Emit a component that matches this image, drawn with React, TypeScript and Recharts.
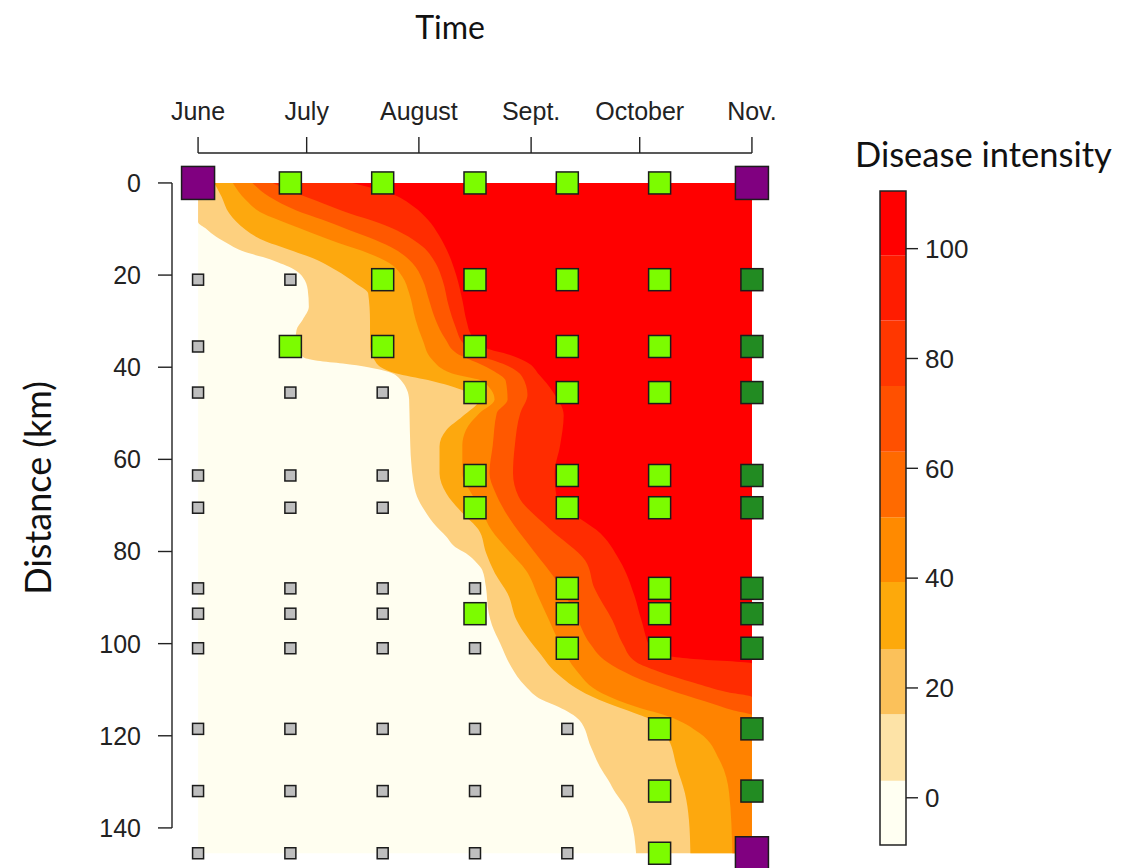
import { ComposedChart, Area, Scatter, XAxis, YAxis, ReferenceLine, ReferenceArea } from 'recharts'

// time axis (days since 1 June) and distance axis (km)
const monthLabels = ['June', 'July', 'August', 'Sept.', 'October', 'Nov.']
const monthDays = [0, 30, 61, 92, 122, 153]
const kmTicks = [0, 20, 40, 60, 80, 100, 120, 140]

// survey grid
const surveyDays = [0, 25.5, 51, 76.5, 102, 127.5, 153]
const surveyKm = [0, 21, 35.5, 45.5, 63.5, 70.5, 88, 93.5, 101, 118.5, 132, 145.5]
// P = source, G = diseased, D = diseased (last survey), o = healthy
const surveyStatus = [
  'PGGGGGP',
  'ooGGGGD',
  'oGGGGGD',
  'oooGGGD',
  'oooGGGD',
  'oooGGGD',
  'ooooGGD',
  'oooGGGD',
  'ooooGGD',
  'oooooGD',
  'oooooGD',
  'oooooGP',
]

// contour edges, [km, day]: intensity is above the level to the right of the edge
const edgeAll = [[0, 0], [145.5, 0]]
const edge1 = [[0, 0], [8.5, 0], [10, 2.3], [11.7, 5], [13, 7.8], [13.9, 9.8], [15, 13], [16.1, 17.9], [17.2, 22], [18.2, 25.1], [20.4, 28.9], [23.2, 30.3], [26.9, 30.6], [29.7, 28.9], [31.9, 27.2], [35, 26.8], [37.8, 29], [38.6, 33], [39.2, 40], [40, 47], [41, 52.5], [42.8, 56], [47, 58.3], [53.6, 58.5], [60.8, 58.9], [64.5, 59.4], [68.1, 60.5], [71, 62.5], [73.8, 65], [76.8, 68.6], [79, 71], [80.4, 74], [82.5, 77], [84, 78.5], [87.6, 79.5], [93.4, 80.3], [96, 81.2], [100, 83.5], [105, 86.5], [109.3, 90.5], [112.2, 95], [113.7, 99.5], [116.6, 105.3], [122.4, 108.5], [126.7, 111], [129.6, 113.3], [132.5, 115.4], [135.4, 118], [138.3, 119.5], [145.5, 121]]
const edge2 = [[0, 4.5], [3, 6.5], [6.6, 8.6], [10.2, 13.2], [12.4, 17.8], [14.5, 25.2], [16.3, 31.6], [18.9, 38], [21.8, 43.6], [24, 47], [30, 47.5], [35.5, 47.5], [38.4, 48.7], [40, 50.5], [41.3, 54.5], [42.8, 63.5], [45.3, 74], [47.1, 77.5], [50.7, 73], [53.6, 68.6], [57.2, 66.7], [63, 66.7], [67.4, 68.6], [71.7, 73.1], [75.3, 77.5], [80.4, 79.6], [84.7, 82], [89.1, 85.5], [94.9, 88], [102, 94.3], [106.4, 99], [110.8, 107], [113.5, 115], [115.5, 122], [117, 126.5], [120.9, 130], [126.7, 132.2], [132.5, 134.5], [138.3, 135.6], [145.5, 136]]
const edge3 = [[0, 9.6], [3.7, 13.2], [6.6, 17.8], [8.7, 24.3], [10.9, 31.6], [13.1, 39], [15.3, 47.2], [17.4, 52.8], [20.3, 56.4], [23.9, 58.3], [29.7, 60.1], [34, 62], [38.4, 64.7], [41.3, 70], [43, 78.5], [47, 81.9], [50, 77.7], [53.6, 74], [57, 73], [63, 73], [67.8, 75.8], [71.7, 78.6], [75.3, 81], [80, 86], [84, 90.5], [89.8, 94], [95, 97], [101, 100.6], [105.7, 104.4], [110.8, 111.7], [113.7, 121], [115.8, 130], [119.4, 138.5], [125.2, 144], [132.4, 146.7], [145.5, 147.6]]
const edge4 = [[0, 15], [3, 19.7], [5.9, 27], [8, 34.4], [10.2, 41.7], [12.4, 49], [14.5, 54.6], [17.4, 59.2], [21, 62], [25.4, 63.8], [29.7, 65.6], [34, 68.4], [37, 71.5], [39, 77], [41, 82], [43, 85], [47, 85.5], [50, 82.5], [57, 81.4], [63, 80.5], [67, 82], [71.7, 85.1], [79.7, 92.5], [86.9, 99.5], [94.2, 104.5], [100, 108.3], [104, 113], [107, 120], [110, 130], [112.5, 140], [114.5, 148], [115.5, 153], [145.5, 153]]
const edge5 = [[0, 20.6], [2.2, 27], [4.4, 34.4], [6.6, 41.7], [8.7, 50], [10.9, 56.4], [13.8, 62], [17.4, 65.6], [21, 67.5], [26.9, 69.3], [31.2, 71.1], [35, 73.5], [37.5, 78], [39.5, 85], [42, 89.5], [46, 91], [50, 89], [57, 87.5], [63, 87], [68, 88.5], [75, 97], [82, 107], [88, 109.5], [95, 114.5], [100, 117.3], [104, 121], [106, 127], [108.5, 137], [110.5, 146], [111.6, 153], [145.5, 153]]
const edge6 = [[0, 42.6], [2.2, 52.8], [5.1, 59.5], [8, 63.5], [11.3, 66.5], [15.6, 69.3], [20, 71.3], [25.8, 73.1], [30.1, 74.2], [33, 75.5], [35.9, 79.6], [37.3, 86], [38.8, 90.6], [41.7, 94.3], [45.3, 98], [50.4, 101], [57, 100], [63, 98.5], [68, 99], [72, 104], [75.3, 110], [82, 116.5], [89.5, 120.5], [95, 122.5], [102, 125.8], [103.3, 136], [104.3, 153], [145.5, 153]]

const contourEdges = [edgeAll, edge1, edge2, edge3, edge4, edge5, edge6]
const contourColors = ['#FFFEF0', '#FDD07F', '#FDA80E', '#FF8300', '#FF5800', '#FF2C00', '#FF0000']

// colour key
const legendBreaks = [-8.6, 3.1, 15.2, 27.1, 39.3, 51.1, 63, 75, 86.9, 98.8, 110.5]
const legendColors = ['#FFFFF2', '#FDE3A7', '#FBC15A', '#FDA90B', '#FF8A00', '#FF6A00', '#FF5000', '#FF3700', '#FF1C00', '#FF0000']
const legendTicks = [0, 20, 40, 60, 80, 100]

const X_DOMAIN = [-7.2, 160.2]
const Y_DOMAIN = [-6.5, 148.05]
const LAST_DAY = monthDays[monthDays.length - 1]
const LAST_TICK_KM = kmTicks[kmTicks.length - 1]

const toPoints = (edge: number[][]) => edge.map(([d, t]) => ({ d, t }))

const surveyPoints = surveyKm.flatMap((d, i) =>
  surveyDays.map((t, j) => ({ d, t, s: surveyStatus[i][j] }))
)
const pointsFor = (s: string) => surveyPoints.filter((p) => p.s === s)

const square = (size: number, fill: string) => (props: any) => (
  <rect
    x={props.cx - size / 2}
    y={props.cy - size / 2}
    width={size}
    height={size}
    fill={fill}
    stroke="#1c1c1c"
    strokeWidth={1.5}
  />
)

const axisFont = { fontSize: 25, fill: '#222', fontFamily: '"Liberation Sans", Arial, sans-serif' }
const titleFont = { fontFamily: 'Lato, "Open Sans", sans-serif', fontSize: 32, color: '#111', lineHeight: 1, whiteSpace: 'nowrap' as const }

export default function App() {
  return (
    <div style={{ position: 'absolute', left: 0, top: 0, width: 1132, height: 868, background: '#fff', overflow: 'hidden' }}>
      <ComposedChart width={1132} height={868} layout="vertical" margin={{ top: 0, right: 354, bottom: 3, left: 0 }}>
        <XAxis
          type="number"
          dataKey="t"
          orientation="top"
          domain={X_DOMAIN}
          ticks={monthDays}
          interval={0}
          height={153}
          tickSize={16}
          tickMargin={17}
          axisLine={false}
          tickLine={{ stroke: '#222', strokeWidth: 1.4 }}
          tick={axisFont}
          tickFormatter={(v) => monthLabels[monthDays.indexOf(v)]}
        />
        <YAxis
          type="number"
          dataKey="d"
          domain={Y_DOMAIN}
          ticks={kmTicks}
          interval={0}
          width={172}
          tickSize={14}
          tickMargin={17}
          axisLine={false}
          tickLine={{ stroke: '#222', strokeWidth: 1.4 }}
          tick={axisFont}
        />
        {contourEdges.map((edge, i) => (
          <Area
            key={i}
            data={toPoints(edge)}
            dataKey={(p: any) => [p.t, LAST_DAY]}
            type="monotone"
            stroke="none"
            fill={contourColors[i]}
            fillOpacity={1}
            dot={false}
            activeDot={false}
            isAnimationActive={false}
          />
        ))}
        <ReferenceLine
          segment={[{ x: 0, y: Y_DOMAIN[0] }, { x: LAST_DAY, y: Y_DOMAIN[0] }]}
          stroke="#222"
          strokeWidth={1.4}
          ifOverflow="visible"
        />
        <ReferenceLine
          segment={[{ x: X_DOMAIN[0], y: 0 }, { x: X_DOMAIN[0], y: LAST_TICK_KM }]}
          stroke="#222"
          strokeWidth={1.4}
          ifOverflow="visible"
        />
        <Scatter data={pointsFor('o')} shape={square(11, '#BEBEBE')} isAnimationActive={false} />
        <Scatter data={pointsFor('G')} shape={square(22, '#7CFC00')} isAnimationActive={false} />
        <Scatter data={pointsFor('D')} shape={square(22, '#228B22')} isAnimationActive={false} />
        <Scatter data={pointsFor('P')} shape={square(33, '#800080')} isAnimationActive={false} />
      </ComposedChart>

      {/* colour key */}
      <div style={{ position: 'absolute', left: 860, top: 180 }}>
        <ComposedChart
          width={200}
          height={680}
          data={legendColors.map((c, i) => ({ x: 0.5, y: (legendBreaks[i] + legendBreaks[i + 1]) / 2 }))}
          margin={{ top: 11, right: 0, bottom: 15, left: 20 }}
        >
          <XAxis type="number" dataKey="x" domain={[0, 1]} hide />
          <YAxis
            type="number"
            dataKey="y"
            orientation="right"
            domain={[legendBreaks[0], legendBreaks[legendBreaks.length - 1]]}
            ticks={legendTicks}
            interval={0}
            width={154}
            tickSize={12}
            tickMargin={7}
            axisLine={false}
            tickLine={{ stroke: '#222', strokeWidth: 1.4 }}
            tick={{ ...axisFont, fontSize: 26 }}
          />
          {legendColors.map((c, i) => (
            <ReferenceArea
              key={i}
              x1={0}
              x2={1}
              y1={legendBreaks[i]}
              y2={legendBreaks[i + 1]}
              fill={c}
              fillOpacity={1}
              stroke="none"
            />
          ))}
          <ReferenceArea
            x1={0}
            x2={1}
            y1={legendBreaks[0]}
            y2={legendBreaks[legendBreaks.length - 1]}
            fill="none"
            stroke="#222"
            strokeWidth={1.5}
          />
        </ComposedChart>
      </div>

      <div style={{ ...titleFont, position: 'absolute', left: 450, top: 11, transform: 'translateX(-50%)' }}>Time</div>
      <div style={{ ...titleFont, fontSize: 34.5, position: 'absolute', left: 855, top: 137 }}>Disease intensity</div>
      <div style={{ ...titleFont, fontSize: 36, position: 'absolute', left: 37, top: 488, transform: 'translate(-50%, -50%) rotate(-90deg)' }}>
        Distance (km)
      </div>
    </div>
  )
}
